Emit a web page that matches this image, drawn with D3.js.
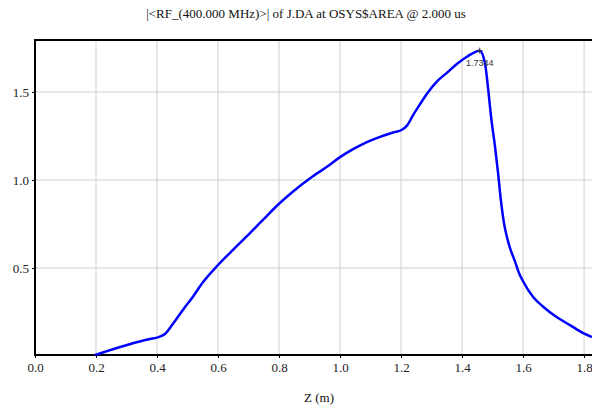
<!DOCTYPE html>
<html>
<head>
<meta charset="utf-8">
<script src="https://cdn.jsdelivr.net/npm/d3@7"></script>
<style>
  html, body { margin: 0; padding: 0; background: #fff; }
  svg { display: block; }
</style>
</head>
<body>
<svg id="chart" width="592" height="411"></svg>
<script>
// |RF| amplitude along Z
const zValues = [0.197, 0.377, 0.40, 0.426, 0.453, 0.486, 0.519, 0.551, 0.60, 0.65, 0.694, 0.748, 0.80,
  0.846, 0.902, 0.957, 1.0, 1.043, 1.088, 1.131, 1.174, 1.203, 1.22, 1.24, 1.262, 1.285, 1.318,
  1.351, 1.384, 1.416, 1.458, 1.475, 1.486, 1.495, 1.508, 1.518, 1.527, 1.538, 1.548, 1.557,
  1.574, 1.587, 1.60, 1.633, 1.666, 1.711, 1.754, 1.797, 1.826];
const rfValues = [0.006, 0.097, 0.105, 0.125, 0.185, 0.265, 0.34, 0.42, 0.517, 0.605, 0.68, 0.775, 0.865,
  0.935, 1.01, 1.075, 1.13, 1.175, 1.215, 1.245, 1.27, 1.285, 1.31, 1.37, 1.43, 1.49, 1.56,
  1.61, 1.66, 1.70, 1.7344, 1.665, 1.51, 1.36, 1.19, 1.04, 0.89, 0.75, 0.67, 0.615,
  0.535, 0.47, 0.425, 0.335, 0.28, 0.22, 0.176, 0.13, 0.108];
const xTicks = [0.0, 0.2, 0.4, 0.6, 0.8, 1.0, 1.2, 1.4, 1.6, 1.8];
const yTicks = [0.5, 1.0, 1.5];
const peakLabel = "1.7344";
const titleText = "|<RF_(400.000 MHz)>| of J.DA at OSYS$AREA @ 2.000 us";
const xLabel = "Z (m)";

const svg = d3.select("#chart");
const plotLeft = 35, plotRight = 592, plotTop = 40, plotBottom = 355;

const x = d3.scaleLinear().domain([0, 1.826]).range([plotLeft, plotRight]);
const y = d3.scaleLinear().domain([0.006, 1.795]).range([plotBottom, plotTop]);

const serif = "'Liberation Serif', 'Times New Roman', serif";

// grid
svg.append("g").selectAll("line").data(xTicks.filter(d => d > 0)).join("line")
  .attr("x1", d => x(d)).attr("x2", d => x(d)).attr("y1", plotTop).attr("y2", plotBottom)
  .attr("stroke", "#cfcfcf").attr("stroke-width", 1);
svg.append("g").selectAll("line").data(yTicks).join("line")
  .attr("x1", plotLeft).attr("x2", plotRight).attr("y1", d => y(d)).attr("y2", d => y(d))
  .attr("stroke", "#cfcfcf").attr("stroke-width", 1);

// axes
const xAxis = d3.axisBottom(x).tickValues(xTicks).tickFormat(d3.format(".1f")).tickSize(3).tickSizeOuter(0);
const yAxis = d3.axisLeft(y).tickValues(yTicks).tickFormat(d3.format(".1f")).tickSize(3).tickSizeOuter(0);

const gx = svg.append("g").attr("transform", `translate(0,${plotBottom})`).call(xAxis);
const gy = svg.append("g").attr("transform", `translate(${plotLeft},0)`).call(yAxis);
[gx, gy].forEach(g => {
  g.select(".domain").remove();
  g.selectAll(".tick line").attr("stroke", "#000");
  g.selectAll(".tick text").attr("font-family", serif).attr("font-size", 13).attr("fill", "#222");
});
gx.selectAll(".tick text").attr("dy", "0.95em").attr("y", 5);
gy.selectAll(".tick text").attr("x", -6);

// frame lines
svg.append("line").attr("x1", plotLeft).attr("x2", plotRight).attr("y1", plotBottom).attr("y2", plotBottom)
  .attr("stroke", "#000").attr("stroke-width", 2);
svg.append("line").attr("x1", plotLeft).attr("x2", plotLeft).attr("y1", plotTop).attr("y2", plotBottom + 1)
  .attr("stroke", "#000").attr("stroke-width", 2);
svg.append("line").attr("x1", plotLeft - 1).attr("x2", plotRight).attr("y1", plotTop).attr("y2", plotTop)
  .attr("stroke", "#000").attr("stroke-width", 2);

// curve
const pts = zValues.map((z, i) => [z, rfValues[i]]);
svg.append("path").datum(pts)
  .attr("d", d3.line().x(d => x(d[0])).y(d => y(d[1])).curve(d3.curveMonotoneX))
  .attr("fill", "none").attr("stroke", "#0000ff").attr("stroke-width", 2.5)
  .attr("stroke-linejoin", "round");

// peak marker
const iPeak = d3.maxIndex(rfValues);
const px = x(zValues[iPeak]), py = y(rfValues[iPeak]);
svg.append("path").attr("d", `M${px - 3},${py}H${px + 3}M${px},${py - 3}V${py + 3}`)
  .attr("stroke", "#333").attr("stroke-width", 1);
svg.append("text").attr("x", px).attr("y", py + 15).attr("text-anchor", "middle")
  .attr("font-family", "'Liberation Sans', Arial, sans-serif").attr("font-size", 9)
  .attr("fill", "#333").text(peakLabel);

// title and axis label
svg.append("text").attr("x", 306).attr("y", 18).attr("text-anchor", "middle")
  .attr("font-family", serif).attr("font-size", 13).attr("fill", "#111").text(titleText);
svg.append("text").attr("x", 319).attr("y", 402).attr("text-anchor", "middle")
  .attr("font-family", serif).attr("font-size", 13).attr("fill", "#111").text(xLabel);
</script>
</body>
</html>
